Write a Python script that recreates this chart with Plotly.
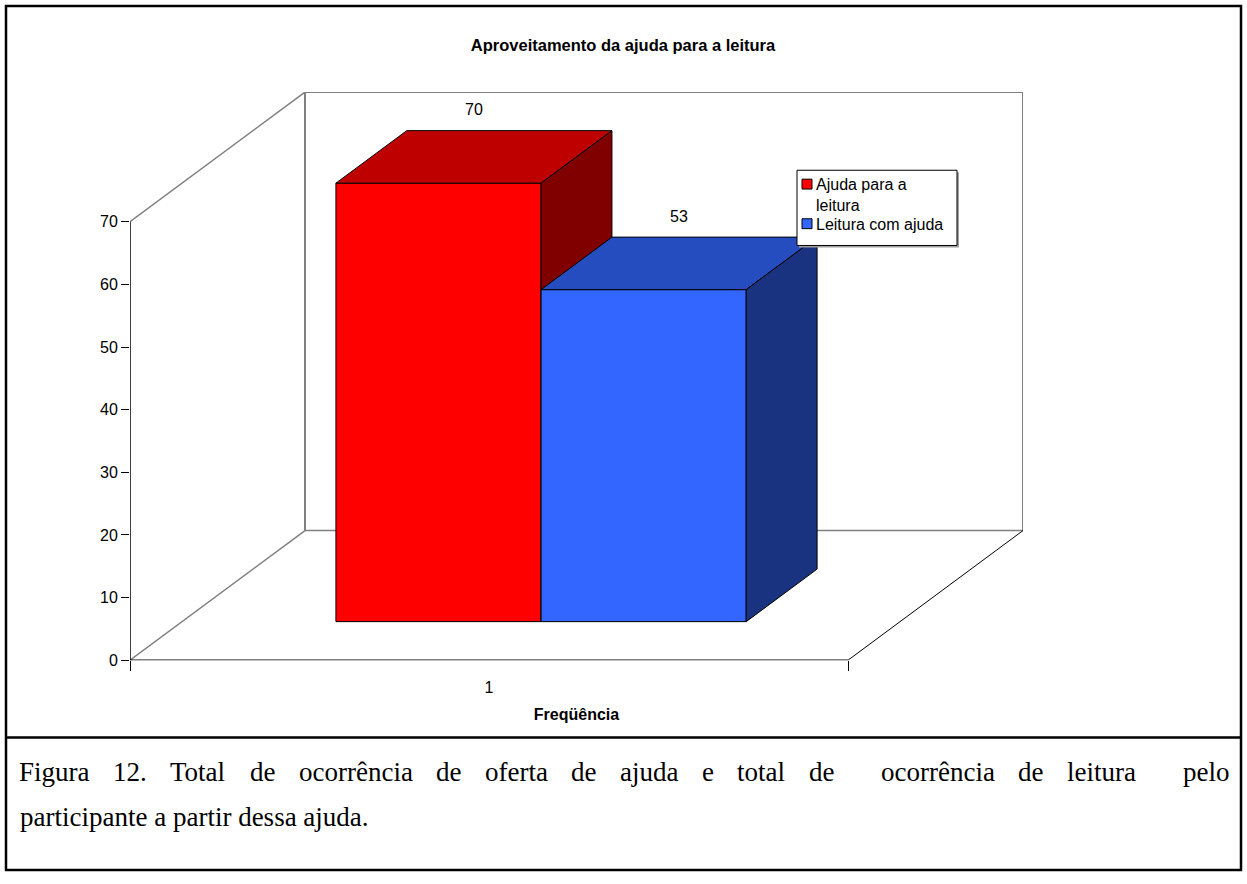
import plotly.graph_objects as go

# ---------------------------------------------------------------- data
categories = ["1"]
series_names = ["Ajuda para a<br>leitura", "Leitura com ajuda"]
series_values = [70, 53]
front_colors = ["#FF0000", "#3366FF"]
top_colors = ["#BF0000", "#264DBF"]
side_colors = ["#800000", "#1A3380"]
y_tick_values = [0, 10, 20, 30, 40, 50, 60, 70]

chart_title = "Aproveitamento da ajuda para a leitura"
x_axis_title = "Freqüência"
caption_lines = [
    "Figura 12. Total de ocorrência de oferta de ajuda e total de  ocorrência de leitura  pelo",
    "participante a partir dessa ajuda.",
]

# ---------------------------------------------------------------- layout (px)
W, H = 1247, 884
FLOOR_LEFT, FLOOR_RIGHT = 130, 848      # front edge of the floor
FLOOR_Y, TOP_Y = 667, 224               # y = 0 and y = max tick on the front plane
DEPTH_PX = (175, 131)                   # oblique offset of the back wall
Y_MAX = y_tick_values[-1]

px_per_x = FLOOR_RIGHT - FLOOR_LEFT
px_per_y = (FLOOR_Y - TOP_Y) / Y_MAX
DX = DEPTH_PX[0] / px_per_x
DY = DEPTH_PX[1] / px_per_y

GAP_WIDTH = 1.5                          # gap between groups, in bar widths
BAR_W = 1.0 / (len(series_values) + GAP_WIDTH)
GROUP_LEFT = 0.5 - BAR_W * len(series_values) / 2
BAR_DEPTH = 0.405
Z_FRONT = 0.5 - BAR_DEPTH / 2
Z_BACK = 0.5 + BAR_DEPTH / 2

FONT = "Liberation Sans, Arial, sans-serif"
SERIF = "Liberation Serif, Times New Roman, serif"
FS = 16
CAPTION_FS = 27


def proj(x, y, z):
    """Oblique projection of (category x, value y, depth z) onto the axes."""
    return x + z * DX, y + z * DY


def poly(points):
    xs, ys = zip(*[proj(*p) for p in points])
    return list(xs) + [xs[0]], list(ys) + [ys[0]]


def px_x(v):
    return v / W


def px_y(v):
    return 1 - v / H


fig = go.Figure()

# ---------------------------------------------------------------- walls and floor
WALL = "#808080"


def seg(p, q, color, width):
    (x0, y0), (x1, y1) = proj(*p), proj(*q)
    fig.add_trace(go.Scatter(x=[x0, x1], y=[y0, y1], mode="lines",
                             line=dict(color=color, width=width),
                             hoverinfo="skip", showlegend=False))


seg((0, 0, 0), (0, 0, 1), WALL, 1.5)                 # left floor edge
seg((0, Y_MAX, 0), (0, Y_MAX, 1), WALL, 1.5)         # left wall top edge
seg((0, 0, 1), (0, Y_MAX, 1), WALL, 2)               # back-left vertical
seg((0, Y_MAX, 1), (1, Y_MAX, 1), WALL, 2)           # back wall top
seg((1, 0, 1), (1, Y_MAX, 1), WALL, 2)               # back-right vertical
seg((0, 0, 1), (1, 0, 1), WALL, 1.5)                 # back floor edge
seg((1, 0, 0), (1, 0, 1), "#000000", 1)              # right floor edge
seg((0, 0, 0), (1, 0, 0), "#000000", 1.5)            # front floor edge (x axis)
seg((0, 0, 0), (0, Y_MAX, 0), "#000000", 1.5)        # value axis

# ---------------------------------------------------------------- 3-D bars
for i, v in enumerate(series_values):
    L = GROUP_LEFT + i * BAR_W
    R = L + BAR_W
    faces = [
        ([(L, 0, Z_FRONT), (R, 0, Z_FRONT), (R, v, Z_FRONT), (L, v, Z_FRONT)], front_colors[i]),
        ([(L, v, Z_FRONT), (R, v, Z_FRONT), (R, v, Z_BACK), (L, v, Z_BACK)], top_colors[i]),
        ([(R, 0, Z_FRONT), (R, 0, Z_BACK), (R, v, Z_BACK), (R, v, Z_FRONT)], side_colors[i]),
    ]
    for pts, col in faces:
        xs, ys = poly(pts)
        fig.add_trace(go.Scatter(x=xs, y=ys, mode="lines", fill="toself",
                                 fillcolor=col, line=dict(color="#000000", width=1),
                                 hoverinfo="skip", showlegend=False))
    lx, _ = proj((L + R) / 2, v, 0.5)
    _, ly = proj((L + R) / 2, v, Z_BACK)
    fig.add_annotation(x=lx, y=ly, text=str(v), showarrow=False, yshift=21,
                       font=dict(family=FONT, size=FS, color="#000000"))

# category label axis
fig.add_trace(go.Scatter(x=[0.5], y=[None], xaxis="x2", mode="markers",
                         showlegend=False, hoverinfo="skip"))

x_dom = [FLOOR_LEFT / W, (FLOOR_RIGHT + DEPTH_PX[0]) / W]
y_dom = [(H - FLOOR_Y) / H, (H - (TOP_Y - DEPTH_PX[1])) / H]

fig.update_layout(
    width=W, height=H,
    margin=dict(l=0, r=0, t=0, b=0),
    paper_bgcolor="#FFFFFF", plot_bgcolor="rgba(0,0,0,0)",
    font=dict(family=FONT, size=FS, color="#000000"),
    title=dict(text=chart_title, x=623 / W, xanchor="center",
               y=1 - 45 / H, yanchor="middle",
               font=dict(family=FONT, size=16.5, weight="bold", color="#000000")),
    showlegend=False,
    xaxis=dict(domain=x_dom, range=[0, 1 + DX], showgrid=False, zeroline=False,
               showline=False, tickvals=[0, 1], ticks="outside", ticklen=10,
               tickcolor="#000000", tickwidth=1, showticklabels=False,
               fixedrange=True),
    xaxis2=dict(overlaying="x", anchor="y", side="bottom", range=[0, 1 + DX],
                showgrid=False, zeroline=False, showline=False,
                tickvals=[0.5], ticktext=categories, ticks="",
                ticklabelstandoff=16, tickfont=dict(size=FS),
                title=dict(text=x_axis_title, standoff=13,
                           font=dict(size=FS, weight="bold")),
                fixedrange=True),
    yaxis=dict(domain=y_dom, range=[0, Y_MAX + DY], showgrid=False, zeroline=False,
               showline=False, tickvals=y_tick_values, ticks="outside", ticklen=8,
               tickcolor="#000000", tickwidth=1, tickfont=dict(size=FS),
               fixedrange=True),
)

# ---------------------------------------------------------------- legend box
LEG_L, LEG_T, LEG_R, LEG_B = 797, 172, 957, 248
fig.add_shape(type="rect", xref="paper", yref="paper",
              x0=px_x(LEG_L + 2), x1=px_x(LEG_R + 2), y0=px_y(LEG_T + 2), y1=px_y(LEG_B + 2),
              line=dict(width=0), fillcolor="#A0A0A0")
fig.add_shape(type="rect", xref="paper", yref="paper",
              x0=px_x(LEG_L), x1=px_x(LEG_R), y0=px_y(LEG_T), y1=px_y(LEG_B),
              line=dict(color="#000000", width=1), fillcolor="#FFFFFF")
entry_tops = [LEG_T + 6, LEG_T + 46]
for i, name in enumerate(series_names):
    top = entry_tops[i]
    fig.add_shape(type="rect", xref="paper", yref="paper",
                  x0=px_x(LEG_L + 5), x1=px_x(LEG_L + 15),
                  y0=px_y(top + 3), y1=px_y(top + 13),
                  line=dict(color="#000000", width=1), fillcolor=front_colors[i])
    fig.add_annotation(xref="paper", yref="paper", x=px_x(LEG_L + 17), y=px_y(top - 2),
                       xanchor="left", yanchor="top", align="left", showarrow=False,
                       text=name, font=dict(family=FONT, size=FS, color="#000000"))

# ---------------------------------------------------------------- frame and caption
fig.add_shape(type="rect", xref="paper", yref="paper",
              x0=px_x(6), x1=px_x(1241), y0=px_y(6), y1=px_y(879),
              line=dict(color="#000000", width=2.5))
fig.add_shape(type="line", xref="paper", yref="paper",
              x0=px_x(6), x1=px_x(1241), y0=px_y(745), y1=px_y(745),
              line=dict(color="#000000", width=2.5))

# advance widths of the serif face (per 1000 em) for justified line layout
SERIF_ADV = {
    "F": 556, "T": 611, "a": 444, "c": 444, "d": 500, "e": 444, "ê": 444,
    "f": 333, "g": 500, "i": 278, "j": 278, "l": 278, "n": 500, "o": 500,
    "p": 500, "r": 333, "s": 389, "t": 278, "u": 500, "1": 500, "2": 500,
    ".": 250,
}


def word_width(word):
    return sum(SERIF_ADV.get(ch, 500) for ch in word) * CAPTION_FS / 1000


CAP_LEFT, CAP_RIGHT = 18, 1228
CAP_Y = [780, 825]
for k, line in enumerate(caption_lines):
    caption_font = dict(family=SERIF, size=CAPTION_FS, color="#000000")
    if k == len(caption_lines) - 1:
        # last paragraph line is left aligned
        fig.add_annotation(xref="paper", yref="paper", x=px_x(CAP_LEFT), y=px_y(CAP_Y[k]),
                           xanchor="left", yanchor="middle", showarrow=False, text=line,
                           font=caption_font)
        continue
    # justified line: stretch every space so the words fill the full width
    words = line.split(" ")
    n_spaces = len(words) - 1
    gap = (CAP_RIGHT - CAP_LEFT - sum(word_width(w) for w in words)) / n_spaces
    x = CAP_LEFT
    for w in words:
        if w:
            fig.add_annotation(xref="paper", yref="paper", x=px_x(x), y=px_y(CAP_Y[k]),
                               xanchor="left", yanchor="middle", showarrow=False, text=w,
                               borderpad=0, font=caption_font)
            x += word_width(w)
        x += gap

fig.write_html("out.html")
